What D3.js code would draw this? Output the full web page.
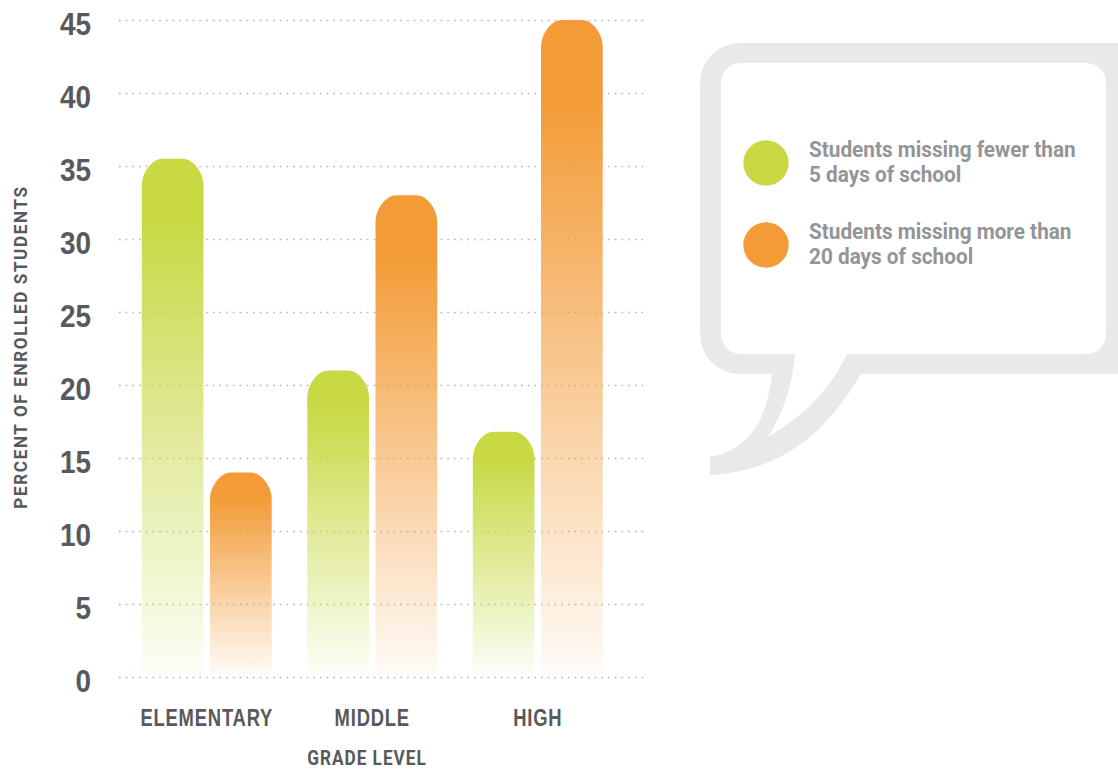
<!DOCTYPE html>
<html><head><meta charset="utf-8">
<script src="https://cdn.jsdelivr.net/npm/d3@7"></script>
<style>
html,body{margin:0;padding:0;background:#fff;}
svg{display:block;font-family:Roboto,"Open Sans",sans-serif;}
</style></head>
<body>
<svg id="chart" width="1118" height="770"></svg>
<script>
const categories = ["ELEMENTARY", "MIDDLE", "HIGH"];
const seriesNames = ["Students missing fewer than 5 days of school", "Students missing more than 20 days of school"];
const fewerThan5 = [35.5, 21, 16.8];
const moreThan20 = [14, 33, 45];
const yTicks = [0, 5, 10, 15, 20, 25, 30, 35, 40, 45];
const legendLines = [["Students missing fewer than", "5 days of school"], ["Students missing more than", "20 days of school"]];
const colors = ["#c8d944", "#f39b36"];

const svg = d3.select("#chart");
const y = d3.scaleLinear().domain([0, 45]).range([677, 20]);
const x0 = d3.scaleBand().domain(categories).range([124, 620.5]).paddingInner(0.215).paddingOuter(0.1075);
const keys = [0, 1];
const x1 = d3.scaleBand().domain(keys).range([0, x0.bandwidth()]).paddingInner(0.095);

function squeeze(sel, factor) {
  sel.each(function() {
    const w = this.getComputedTextLength();
    d3.select(this).attr("textLength", w * factor).attr("lengthAdjust", "spacingAndGlyphs");
  });
}

const defs = svg.append("defs");
colors.forEach((c, i) => {
  const g = defs.append("linearGradient").attr("id", "grad" + i).attr("x1", 0).attr("y1", 0).attr("x2", 0).attr("y2", 1);
  g.append("stop").attr("offset", 0).attr("stop-color", c).attr("stop-opacity", 1);
  g.append("stop").attr("offset", 0.12).attr("stop-color", c).attr("stop-opacity", 1);
  g.append("stop").attr("offset", 1).attr("stop-color", c).attr("stop-opacity", 0.04);
});

// gridlines + y labels
const yAxis = d3.axisLeft(y).tickValues(yTicks).tickSize(-(648 - 119)).tickPadding(28);
const gy = svg.append("g").attr("transform", "translate(119,0)").call(yAxis);
gy.select(".domain").remove();
gy.selectAll(".tick line").attr("stroke", "#b5b5b5").attr("stroke-width", 1.6).attr("stroke-dasharray", "1.6,5.1");
gy.selectAll(".tick text").attr("fill", "#58595b").attr("font-size", 31).attr("font-weight", 700).attr("dy", "0.36em").attr("transform", "translate(0,3)");
squeeze(gy.selectAll(".tick text"), 0.9);

// bars
const data = categories.map((c, i) => ({cat: c, vals: [fewerThan5[i], moreThan20[i]]}));
const rx = 21, ry = 27, k = 0.5;
function barPath(xl, w, yt, yb) {
  const v = Math.min(ry, yb - yt);
  return `M${xl},${yb}V${yt + v}C${xl},${yt + v*(1-k)} ${xl + rx*(1-k)},${yt} ${xl + rx},${yt}H${xl + w - rx}C${xl + w - rx*(1-k)},${yt} ${xl + w},${yt + v*(1-k)} ${xl + w},${yt + v}V${yb}Z`;
}
const groups = svg.append("g").selectAll("g").data(data).join("g")
  .attr("transform", d => `translate(${x0(d.cat)},0)`);
groups.selectAll("path").data(d => d.vals.map((v, k) => ({k, v}))).join("path")
  .attr("d", d => barPath(x1(d.k), x1.bandwidth(), y(d.v), y(0) - 3))
  .attr("fill", d => `url(#grad${d.k})`);

// x axis labels
const xAxis = d3.axisBottom(x0).tickSize(0).tickPadding(0);
const gx = svg.append("g").attr("transform", "translate(0,718)").call(xAxis);
gx.select(".domain").remove();
gx.selectAll(".tick text").attr("fill", "#58595b").attr("font-size", 23).attr("font-weight", 700)
  .attr("letter-spacing", 1).attr("dy", "0.36em");
squeeze(gx.selectAll(".tick text"), 0.8);

const gl = svg.append("text").attr("x", 367).attr("y", 765).attr("text-anchor", "middle").attr("fill", "#58595b")
  .attr("font-size", 21).attr("font-weight", 700).attr("letter-spacing", 1.2).text("GRADE LEVEL");
squeeze(gl, 0.82);

const yt = svg.append("text").attr("transform", "translate(27,347) rotate(-90)").attr("text-anchor", "middle").attr("fill", "#58595b")
  .attr("font-size", 19).attr("font-weight", 700).attr("letter-spacing", 1.8).text("PERCENT OF ENROLLED STUDENTS");
squeeze(yt, 0.9);

// speech bubble legend
const outer = "M772,374 H740 A40,40 0 0 1 700,334 V83 A40,40 0 0 1 740,43 H1140 V374 H861 C830,425 790,470 710,475 V457 C755,450 768,410 772,374 Z";
const inner = "M741,354 A20,20 0 0 1 721,334 V83 A20,20 0 0 1 741,63 H1086 A20,20 0 0 1 1106,83 V334 A20,20 0 0 1 1086,354 H847 C830,390 805,415 768,437 C785,410 792,385 795,354 Z";
svg.append("path").attr("d", outer).attr("fill", "#e8e9ea");
svg.append("path").attr("d", inner).attr("fill", "#fff");

const lg = svg.append("g").selectAll("g").data(seriesNames).join("g")
  .attr("transform", (d, i) => `translate(0,${i * 82})`);
lg.append("circle").attr("cx", 766).attr("cy", 163).attr("r", 22.7).attr("fill", (d, i) => colors[i]);
const lt = lg.append("text").attr("x", 809).attr("y", 157).attr("fill", "#939598").attr("font-size", 21.5).attr("font-weight", 700);
lt.selectAll("tspan").data((d, i) => legendLines[i]).join("tspan")
  .attr("x", 809).attr("dy", (d, j) => j === 0 ? 0 : 24.5).text(d => d);
squeeze(lt.selectAll("tspan"), 0.965);
</script>
</body></html>
